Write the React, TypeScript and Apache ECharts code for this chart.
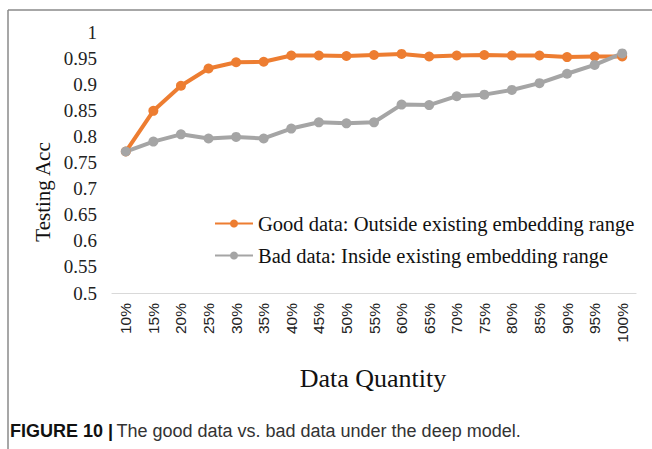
import React, { useEffect, useRef } from "react";
import * as echarts from "echarts";

const categories = ["10%", "15%", "20%", "25%", "30%", "35%", "40%", "45%", "50%", "55%", "60%", "65%", "70%", "75%", "80%", "85%", "90%", "95%", "100%"];
const goodData = [0.771, 0.849, 0.897, 0.930, 0.942, 0.943, 0.955, 0.955, 0.954, 0.956, 0.958, 0.953, 0.955, 0.956, 0.955, 0.955, 0.952, 0.953, 0.953];
const badData = [0.771, 0.790, 0.804, 0.796, 0.799, 0.796, 0.815, 0.827, 0.825, 0.827, 0.861, 0.860, 0.877, 0.880, 0.889, 0.902, 0.920, 0.937, 0.959];
const seriesNames = ["Good data: Outside existing embedding range", "Bad data: Inside existing embedding range"];
const yTitle = "Testing Acc";
const xTitle = "Data Quantity";

const SERIF = "'Liberation Serif', 'Times New Roman', serif";
const SANS = "'Liberation Sans', Arial, sans-serif";

export default function App() {
  const ref = useRef<HTMLDivElement>(null);
  useEffect(() => {
    if (!ref.current) return;
    const chart = echarts.init(ref.current, null, { renderer: "svg" });
    chart.setOption({
      animation: false,
      backgroundColor: "#ffffff",
      grid: { left: 112, right: 16, top: 32, bottom: 156 },
      legend: {
        orient: "vertical",
        left: 209,
        top: 208,
        itemWidth: 38,
        itemHeight: 10,
        itemGap: 11,
        textStyle: { fontFamily: SERIF, fontSize: 20.5, color: "#111" },
        data: seriesNames,
      },
      xAxis: {
        type: "category",
        data: categories,
        boundaryGap: true,
        axisLine: { lineStyle: { color: "#d9d9d9", width: 1.2 } },
        axisTick: { show: false },
        axisLabel: { rotate: 90, margin: 10, fontFamily: SANS, fontSize: 15.5, color: "#222", interval: 0 },
      },
      yAxis: {
        type: "value",
        min: 0.5,
        max: 1,
        interval: 0.05,
        axisLine: { show: false },
        axisTick: { show: false },
        splitLine: { show: false },
        axisLabel: { margin: 15, fontFamily: SERIF, fontSize: 19, color: "#222" },
      },
      series: [
        {
          name: seriesNames[0],
          type: "line",
          data: goodData,
          symbol: "circle",
          symbolSize: 10,
          lineStyle: { color: "#ED7D31", width: 4 },
          itemStyle: { color: "#ED7D31" },
        },
        {
          name: seriesNames[1],
          type: "line",
          data: badData,
          symbol: "circle",
          symbolSize: 10,
          lineStyle: { color: "#A5A5A5", width: 4 },
          itemStyle: { color: "#A5A5A5" },
          z: 3,
        },
      ],
      graphic: [
        { type: "line", shape: { x1: 8, y1: 10, x2: 652, y2: 10 }, style: { stroke: "#8a8a8a", lineWidth: 1.5 } },
        { type: "line", shape: { x1: 8, y1: 10, x2: 8, y2: 449 }, style: { stroke: "#8a8a8a", lineWidth: 1.5 } },
        {
          type: "text",
          x: 43,
          y: 192,
          rotation: Math.PI / 2,
          style: { text: yTitle, fontFamily: SERIF, fontSize: 21, fill: "#111", align: "center", verticalAlign: "middle" },
        },
        {
          type: "text",
          x: 373,
          y: 378,
          style: { text: xTitle, fontFamily: SERIF, fontSize: 26, fill: "#111", align: "center", verticalAlign: "middle" },
        },
        {
          type: "text",
          x: 10,
          y: 431,
          style: {
            text: "{b|FIGURE 10 |} {n|The good data vs. bad data under the deep model.}",
            verticalAlign: "middle",
            rich: {
              b: { fontFamily: SANS, fontSize: 18, fontWeight: "bold", fill: "#111" },
              n: { fontFamily: SANS, fontSize: 18, fill: "#333" },
            },
          },
        },
      ],
    });
    return () => chart.dispose();
  }, []);
  return <div ref={ref} style={{ position: "fixed", left: 0, top: 0, width: 652, height: 449 }} />;
}
